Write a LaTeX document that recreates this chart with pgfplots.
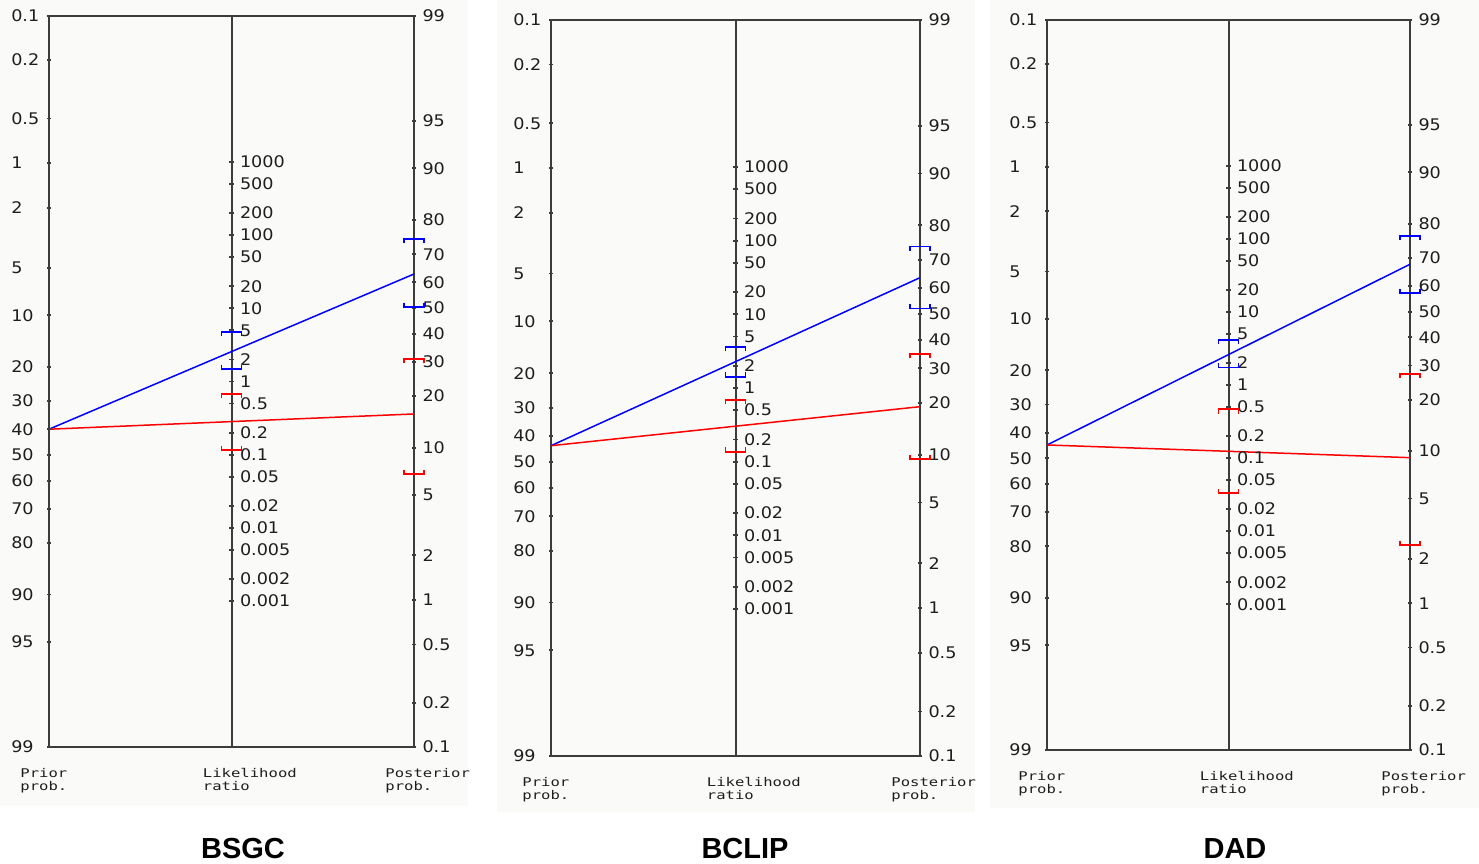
\documentclass[border=0pt]{standalone}
\usepackage{fontspec}
\usepackage{pgfplots}
\pgfplotsset{compat=1.18}
\usepackage{pgfplotstable}
\setmainfont{DejaVu Sans}
\newfontfamily\tickfamily[FakeStretch=1.1]{DejaVu Sans}
\newfontfamily\labfamily[FakeStretch=1.3]{DejaVu Sans Mono}
\newfontfamily\titlefamily{Liberation Sans}

\definecolor{axcol}{RGB}{60,60,60}
\definecolor{txtcol}{RGB}{30,30,30}
\definecolor{bgcol}{RGB}{250,250,249}
\definecolor{nblue}{RGB}{0,0,255}
\definecolor{nred}{RGB}{255,0,0}

% CI bracket marks: upper limit (tips down), lower limit (tips up)
\pgfdeclareplotmark{ciup}{%
  \pgfpathmoveto{\pgfqpoint{-5pt}{-2.2pt}}%
  \pgfpathlineto{\pgfqpoint{-5pt}{0pt}}%
  \pgfpathlineto{\pgfqpoint{5pt}{0pt}}%
  \pgfpathlineto{\pgfqpoint{5pt}{-2.2pt}}%
  \pgfusepathqstroke}
\pgfdeclareplotmark{cilo}{%
  \pgfpathmoveto{\pgfqpoint{-5pt}{2.2pt}}%
  \pgfpathlineto{\pgfqpoint{-5pt}{0pt}}%
  \pgfpathlineto{\pgfqpoint{5pt}{0pt}}%
  \pgfpathlineto{\pgfqpoint{5pt}{2.2pt}}%
  \pgfusepathqstroke}

% nomogram scale positions (linear nomogram coordinate s)
\pgfplotstableread{
s lab
6.9068 0.1
6.2126 0.2
5.2933 0.5
4.5951 1
3.8918 2
2.9444 5
2.1972 10
1.3863 20
0.8473 30
0.4055 40
0 50
-0.4055 60
-0.8473 70
-1.3863 80
-2.1972 90
-2.9444 95
-4.5951 99
}\priorticks

\pgfplotstableread{
s lab
6.9068 99
5.2561 95
4.5089 90
3.6980 80
3.1590 70
2.7172 60
2.3117 50
1.9062 40
1.4644 30
0.9254 20
0.1145 10
-0.6327 5
-1.5801 2
-2.2834 1
-2.9816 0.5
-3.9009 0.2
-4.5951 0.1
}\postticks

\pgfplotstableread{
s lab
4.6098 1000
4.2632 500
3.8051 200
3.4585 100
3.1119 50
2.6538 20
2.3072 10
1.9606 5
1.5025 2
1.1559 1
0.8093 0.5
0.3512 0.2
0.0046 0.1
-0.3420 0.05
-0.8001 0.02
-1.1467 0.01
-1.4933 0.005
-1.9514 0.002
-2.2980 0.001
}\lrticks

\tikzset{tlab/.style={inner sep=0pt, font=\tickfamily\fontsize{8}{9}\selectfont, text=txtcol}}

\pgfplotsset{
  nomo/.style={
    scale only axis, hide axis, clip=false,
    xmin=0, xmax=1, ymin=-4.5951, ymax=6.9068,
    anchor=south west,
  },
  tickst/.style={
    only marks, mark=-, mark size=1.1pt,
    mark options={line width=0.9pt, draw=axcol},
    point meta=explicit symbolic, nodes near coords,
  },
}

\newcommand{\nomoscale}{%
  \addplot[draw=axcol, line width=1pt] coordinates {(0,-4.5951) (0,6.9068) (1,6.9068) (1,-4.5951) (0,-4.5951)};
  \addplot[draw=axcol, line width=1pt] coordinates {(0.5,-4.5951) (0.5,6.9068)};
  \addplot[tickst, nodes near coords style={tlab, anchor=west, xshift=-19.3pt}] table[x expr=0, y=s, meta=lab]{\priorticks};
  \addplot[tickst, nodes near coords style={tlab, anchor=west, xshift=3.8pt}] table[x expr=0.5, y=s, meta=lab]{\lrticks};
  \addplot[tickst, nodes near coords style={tlab, anchor=west, xshift=3.8pt}] table[x expr=1, y=s, meta=lab]{\postticks};
  \node[anchor=north west, xshift=-14.5pt, yshift=-10.5pt, align=left, inner sep=0pt, text=txtcol,
        font=\labfamily\fontsize{6}{6.5}\selectfont] at (axis cs:0,-4.5951) {Prior\\prob.};
  \node[anchor=north west, xshift=-14.5pt, yshift=-10.5pt, align=left, inner sep=0pt, text=txtcol,
        font=\labfamily\fontsize{6}{6.5}\selectfont] at (axis cs:0.5,-4.5951) {Likelihood\\ratio};
  \node[anchor=north west, xshift=-14.5pt, yshift=-10.5pt, align=left, inner sep=0pt, text=txtcol,
        font=\labfamily\fontsize{6}{6.5}\selectfont] at (axis cs:1,-4.5951) {Posterior\\prob.};
}

\begin{document}
\begin{tikzpicture}
\useasboundingbox (0pt,0pt) rectangle (739.5pt,431.5pt);
\fill[bgcol] (0pt,28.5pt) rectangle (234pt,431.5pt);
\fill[bgcol] (248.5pt,25.5pt) rectangle (487.5pt,431.5pt);
\fill[bgcol] (495pt,27.5pt) rectangle (739.5pt,431.5pt);

% ---------------- BSGC ----------------
\begin{axis}[nomo, at={(24.5pt,58pt)}, width=182.5pt, height=365.5pt]
\nomoscale
\addplot[nblue, line width=0.75pt] coordinates {(0,0.405) (1,2.847)};
\addplot[nred, line width=0.75pt] coordinates {(0,0.405) (1,0.645)};
\addplot[only marks, mark=ciup, mark options={draw=nblue, line width=0.8pt}] coordinates {(0.5,1.935) (1,3.398)};
\addplot[only marks, mark=cilo, mark options={draw=nblue, line width=0.8pt}] coordinates {(0.5,1.353) (1,2.328)};
\addplot[only marks, mark=ciup, mark options={draw=nred, line width=0.8pt}] coordinates {(0.5,0.960) (1,1.510)};
\addplot[only marks, mark=cilo, mark options={draw=nred, line width=0.8pt}] coordinates {(0.5,0.078) (1,-0.299)};
\end{axis}

% ---------------- BCLIP ----------------
\begin{axis}[nomo, at={(275.5pt,53.5pt)}, width=184.5pt, height=368pt]
\nomoscale
\addplot[nblue, line width=0.75pt] coordinates {(0,0.254) (1,2.880)};
\addplot[nred, line width=0.75pt] coordinates {(0,0.254) (1,0.864)};
\addplot[only marks, mark=ciup, mark options={draw=nblue, line width=0.8pt}] coordinates {(0.5,1.801) (1,3.364)};
\addplot[only marks, mark=cilo, mark options={draw=nblue, line width=0.8pt}] coordinates {(0.5,1.332) (1,2.401)};
\addplot[only marks, mark=ciup, mark options={draw=nred, line width=0.8pt}] coordinates {(0.5,0.968) (1,1.687)};
\addplot[only marks, mark=cilo, mark options={draw=nred, line width=0.8pt}] coordinates {(0.5,0.160) (1,0.042)};
\end{axis}

% ---------------- DAD ----------------
\begin{axis}[nomo, at={(523.5pt,56.5pt)}, width=181.5pt, height=365pt]
\nomoscale
\addplot[nblue, line width=0.75pt] coordinates {(0,0.211) (1,3.058)};
\addplot[nred, line width=0.75pt] coordinates {(0,0.211) (1,0.011)};
\addplot[only marks, mark=ciup, mark options={draw=nblue, line width=0.8pt}] coordinates {(0.5,1.865) (1,3.508)};
\addplot[only marks, mark=cilo, mark options={draw=nblue, line width=0.8pt}] coordinates {(0.5,1.429) (1,2.601)};
\addplot[only marks, mark=ciup, mark options={draw=nred, line width=0.8pt}] coordinates {(0.5,0.773) (1,1.329)};
\addplot[only marks, mark=cilo, mark options={draw=nred, line width=0.8pt}] coordinates {(0.5,-0.550) (1,-1.365)};
\end{axis}

\node[font=\titlefamily\bfseries\fontsize{14.5}{16}\selectfont] at (121.5pt,7pt) {BSGC};
\node[font=\titlefamily\bfseries\fontsize{14.5}{16}\selectfont] at (372.5pt,7pt) {BCLIP};
\node[font=\titlefamily\bfseries\fontsize{14.5}{16}\selectfont] at (617.5pt,7pt) {DAD};
\end{tikzpicture}
\end{document}
